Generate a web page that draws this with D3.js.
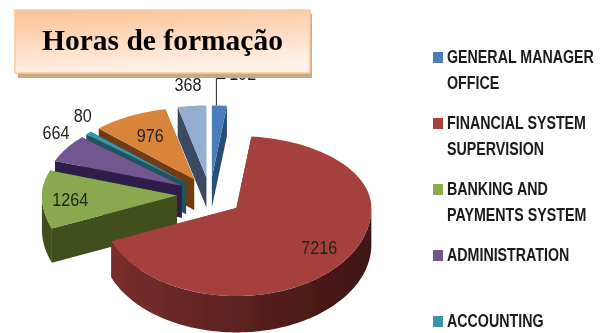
<!DOCTYPE html>
<html>
<head>
<meta charset="utf-8">
<script src="https://cdn.jsdelivr.net/npm/d3@7"></script>
<style>
  html, body { margin: 0; padding: 0; background: #fff; overflow: hidden; }
  svg { display: block; }
</style>
</head>
<body>
<div id="chart"></div>
<script>
const categories = ['GENERAL MANAGER OFFICE', 'FINANCIAL SYSTEM SUPERVISION', 'BANKING AND PAYMENTS SYSTEM', 'ADMINISTRATION', 'ACCOUNTING', 'OTHER A', 'OTHER B'];
const hours = [192, 7216, 1264, 664, 80, 976, 368];
const legendLines = [['GENERAL MANAGER', 'OFFICE'], ['FINANCIAL SYSTEM', 'SUPERVISION'], ['BANKING AND', 'PAYMENTS SYSTEM'], ['ADMINISTRATION'], ['ACCOUNTING']];
const topColors = ['#4a7ebb', '#a5403e', '#8aa84e', '#71568f', '#3b94aa', '#d9843b', '#94aed3'];
const sideColors = ['#2c4d75', '#7a2f2e', '#3f4f1f', '#2e1f49', '#1f5560', '#6e3d12', '#3a4a62'];
const wallEndColors = ['#2c4d75', '#3f1413', '#3f4f1f', '#2e1f49', '#1f5560', '#6e3d12', '#3a4a62'];
const labelRadius = [1.45, 0.77, 0.79, 1.09, 1.06, 0.68, 1.28];
const labelNudgeX = [20, 0, 0, 0, 0, 0, 0];
const labelNudgeY = [2, 0, 4, -11, -13, 0, 0];

const width = 602, height = 333;
const pieCenter = {x: 210, y: 195};
const rx = 135, ryBack = 72, ryFront = 88, explode = 0.245;
const textSqueeze = 0.85;

const svg = d3.select('#chart').append('svg')
  .attr('width', width)
  .attr('height', height);

const defs = svg.append('defs');
const color = d3.scaleOrdinal().domain(categories).range(topColors);
const side = d3.scaleOrdinal().domain(categories).range(sideColors);
const wallEnd = d3.scaleOrdinal().domain(categories).range(wallEndColors);

const soft = defs.append('filter').attr('id', 'soft');
soft.append('feGaussianBlur').attr('stdDeviation', 0.45);

function project(angle, r, c) {
  const cos = Math.cos(angle);
  return [c.x + r * rx * Math.sin(angle), c.y - r * (cos > 0 ? ryBack : ryFront) * cos];
}

const line = d3.line();
const pie = d3.pie().sort(null);
const slices = pie(hours).map((d, i) => {
  const mid = (d.startAngle + d.endAngle) / 2;
  const p = project(mid, explode, pieCenter);
  const center = {x: p[0], y: p[1]};
  return {
    i, name: categories[i], value: d.value,
    start: d.startAngle, end: d.endAngle, mid, center,
    depth: 30 + 8 * (1 - Math.cos(mid)) / 2
  };
});

function arcPoints(a0, a1, c) {
  const n = Math.max(2, Math.ceil((a1 - a0) / 0.03));
  return d3.range(n + 1).map(k => project(a0 + (a1 - a0) * k / n, 1, c));
}

const pies = svg.append('g').attr('filter', 'url(#soft)');
// back slices first, red and green last so they sit on top
const drawOrder = [0, 6, 5, 4, 3, 2, 1];

drawOrder.forEach(i => {
  const s = slices[i];
  const c = s.center;
  const g = pies.append('g');
  const gid = 'wall' + i;
  const grad = defs.append('linearGradient').attr('id', gid)
    .attr('gradientUnits', 'userSpaceOnUse')
    .attr('x1', c.x - rx).attr('x2', c.x + rx).attr('y1', 0).attr('y2', 0);
  grad.append('stop').attr('offset', '0%').attr('stop-color', side(s.name));
  grad.append('stop').attr('offset', '100%').attr('stop-color', wallEnd(s.name));

  [s.start, s.end].forEach(a => {
    const e = project(a, 1, c);
    g.append('path')
      .attr('d', line([[c.x, c.y], e, [e[0], e[1] + s.depth], [c.x, c.y + s.depth]]) + 'Z')
      .attr('fill', side(s.name));
  });

  const a0 = Math.max(s.start, Math.PI / 2), a1 = Math.min(s.end, Math.PI * 1.5);
  if (a1 > a0) {
    const outer = arcPoints(a0, a1, c);
    const lower = outer.map(p => [p[0], p[1] + s.depth]).reverse();
    g.append('path').attr('d', line(outer.concat(lower)) + 'Z').attr('fill', `url(#${gid})`);
  }

  g.append('path')
    .attr('d', line([[c.x, c.y]].concat(arcPoints(s.start, s.end, c))) + 'Z')
    .attr('fill', color(s.name));
});

// value labels
const labels = svg.append('g').attr('filter', 'url(#soft)')
  .attr('font-family', '"Liberation Sans", sans-serif')
  .attr('font-size', 19).attr('fill', '#222');

slices.forEach(s => {
  const p = project(s.mid, labelRadius[s.i], s.center);
  labels.append('text')
    .attr('transform', `translate(${p[0] + labelNudgeX[s.i]},${p[1] + labelNudgeY[s.i]}) scale(${textSqueeze},1)`)
    .attr('text-anchor', 'middle').attr('dominant-baseline', 'middle')
    .text(s.value);
});

// leader line of the smallest top slice
const lead = project(slices[0].start + (slices[0].end - slices[0].start) * 0.3, 1, slices[0].center);
labels.append('path')
  .attr('d', line([lead, [lead[0], 78.5], [lead[0] + 9, 78.5]]))
  .attr('fill', 'none').attr('stroke', '#222').attr('stroke-width', 1);

// title box
const tg = defs.append('linearGradient').attr('id', 'titleFill')
  .attr('x1', 0).attr('y1', 0).attr('x2', 0.25).attr('y2', 1);
tg.append('stop').attr('offset', '0%').attr('stop-color', '#fbc193');
tg.append('stop').attr('offset', '100%').attr('stop-color', '#fff1e8');

const title = svg.append('g').attr('filter', 'url(#soft)');
title.append('rect').attr('x', 18).attr('y', 14).attr('width', 294).attr('height', 64).attr('fill', '#c9ab80');
title.append('rect').attr('x', 15).attr('y', 10).attr('width', 295).attr('height', 63)
  .attr('fill', 'url(#titleFill)').attr('stroke', '#fcc79d').attr('stroke-width', 1.5);
title.append('text').attr('x', 162.5).attr('y', 50).attr('text-anchor', 'middle')
  .attr('font-family', '"Liberation Serif", serif').attr('font-weight', 'bold')
  .attr('font-size', 29.5).attr('fill', '#000')
  .text('Horas de formação');

// legend
const legend = svg.append('g').attr('filter', 'url(#soft)');
const legendY = d3.scaleLinear().domain([0, 1]).range([52, 118]);

legendLines.forEach((lines, i) => {
  const y = legendY(i);
  legend.append('rect').attr('x', 433).attr('y', y).attr('width', 10).attr('height', 11)
    .attr('fill', color(categories[i]));
  lines.forEach((txt, k) => {
    legend.append('text')
      .attr('transform', `translate(447,${y + 11 + k * 26}) scale(0.75,1)`)
      .attr('font-family', '"Liberation Sans", sans-serif')
      .attr('font-weight', 'bold').attr('font-size', 19).attr('fill', '#1a1a1a')
      .text(txt);
  });
});
</script>
</body>
</html>
